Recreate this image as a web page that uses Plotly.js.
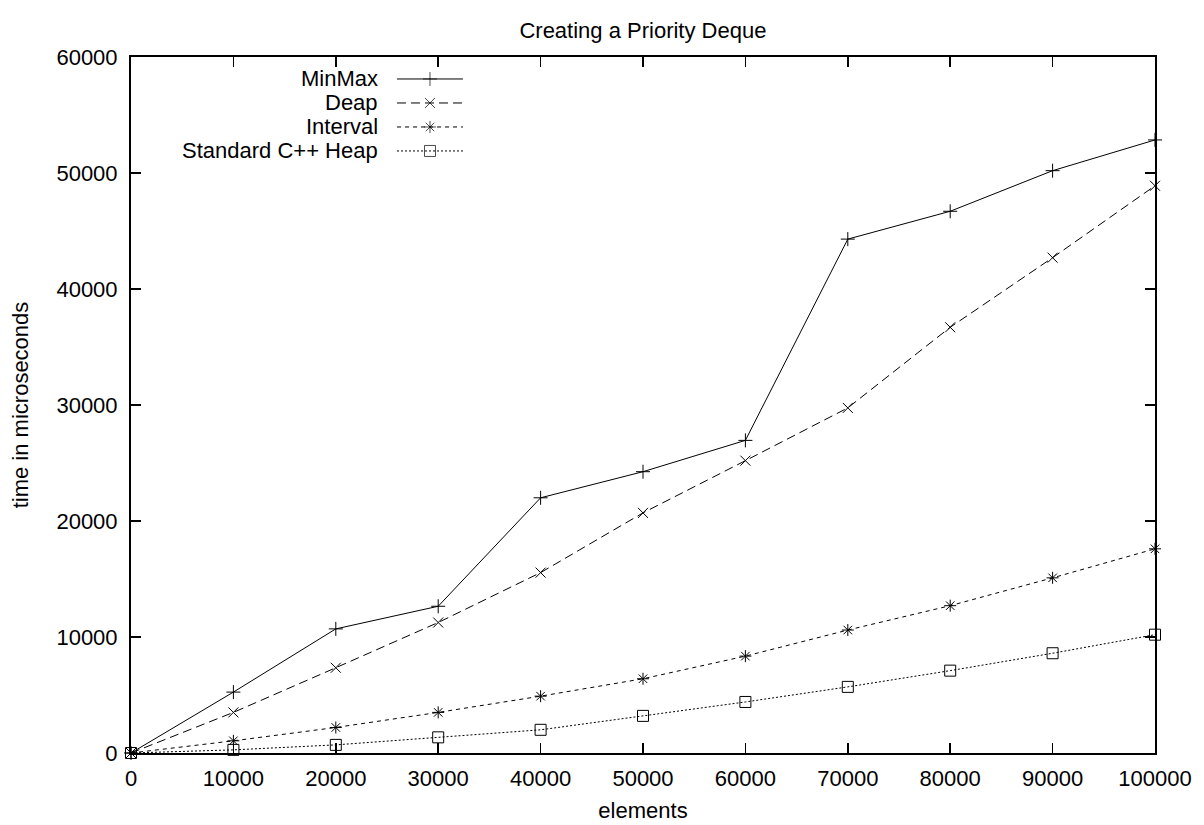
<!DOCTYPE html>
<html>
<head>
<meta charset="utf-8">
<script src="https://cdn.plot.ly/plotly-3.0.1.min.js"></script>
<style>html,body{margin:0;padding:0;background:#fff;}#chart{width:1204px;height:825px;}</style>
</head>
<body>
<div id="chart"></div>
<script>
var elements = [0, 10000, 20000, 30000, 40000, 50000, 60000, 70000, 80000, 90000, 100000];
var minmax   = [0, 5250, 10700, 12650, 22000, 24250, 26950, 44300, 46700, 50200, 52850];
var deap     = [0, 3500, 7350, 11250, 15550, 20700, 25200, 29750, 36700, 42700, 48900];
var interval = [0, 1050, 2200, 3500, 4900, 6400, 8350, 10600, 12700, 15100, 17600];
var heap     = [0, 270, 700, 1350, 2000, 3200, 4400, 5700, 7100, 8600, 10200];
var seriesNames = ["MinMax", "Deap", "Interval", "Standard C++ Heap"];
var xTicks = [0, 10000, 20000, 30000, 40000, 50000, 60000, 70000, 80000, 90000, 100000];
var yTicks = [0, 10000, 20000, 30000, 40000, 50000, 60000];

var FONT = "Liberation Sans, Arial, Helvetica, sans-serif";
var FS = 22;
var styles = [
  {dash: "solid", symbol: "cross-thin-open", size: 10},
  {dash: "9px,5px", symbol: "x-thin-open", size: 10},
  {dash: "4px,4px", symbol: "asterisk-open", size: 10},
  {dash: "2px,2px", symbol: "square-open", size: 11}
];
var seriesData = [minmax, deap, interval, heap];

var traces = [];
seriesData.forEach(function(ys, i){
  traces.push({
    x: elements, y: ys, type: "scatter", mode: "lines+markers",
    name: seriesNames[i], showlegend: false, cliponaxis: false,
    line: {color: "#000", width: 1, dash: styles[i].dash},
    marker: {symbol: styles[i].symbol, size: styles[i].size, color: "#000",
             line: {color: "#000", width: 1}}
  });
});
// custom gnuplot-style key (text left, sample right)
var annotations = [];
seriesNames.forEach(function(n, i){
  traces.push({
    x: [0, 0.5, 1], y: [i, i, i], xaxis: "x2", yaxis: "y2",
    type: "scatter", mode: "lines+markers", showlegend: false, hoverinfo: "skip",
    cliponaxis: false,
    line: {color: "#000", width: 1, dash: styles[i].dash},
    marker: {symbol: styles[i].symbol, size: [0, styles[i].size, 0], color: "#000",
             line: {color: "#000", width: 1}}
  });
  annotations.push({
    text: n, xref: "paper", yref: "y2", x: 0.2432, y: i,
    xanchor: "right", yanchor: "middle", showarrow: false,
    font: {family: FONT, size: FS, color: "#000"}
  });
});

var axisCommon = {
  showgrid: false, zeroline: false, showline: true, linecolor: "#000", linewidth: 2,
  mirror: "allticks", ticks: "inside", ticklen: 10, tickwidth: 1.5, tickcolor: "#000",
  tickfont: {family: FONT, size: FS, color: "#000"}, fixedrange: true
};

var layout = {
  width: 1204, height: 825,
  paper_bgcolor: "#fff", plot_bgcolor: "#fff",
  margin: {l: 131, r: 49, t: 57, b: 72, pad: 0},
  font: {family: FONT, size: FS, color: "#000"},
  title: {text: "Creating a Priority Deque", x: 0.534, xanchor: "center",
          y: 1 - 30/825, yanchor: "middle", font: {family: FONT, size: FS, color: "#000"}},
  xaxis: Object.assign({}, axisCommon, {
    range: [0, 100000], tickmode: "array", tickvals: xTicks, ticktext: xTicks.map(String),
    ticklabelstandoff: 5,
    title: {text: "elements", standoff: 12, font: {family: FONT, size: FS, color: "#000"}}
  }),
  yaxis: Object.assign({}, axisCommon, {
    range: [0, 60000], tickmode: "array", tickvals: yTicks, ticktext: yTicks.map(String),
    ticklabelstandoff: 7,
    title: {text: "time in microseconds", standoff: 22, font: {family: FONT, size: FS, color: "#000"}}
  }),
  xaxis2: {domain: [0.25, 0.335], range: [-0.152, 1.168], visible: false, fixedrange: true, anchor: "y2"},
  yaxis2: {domain: [0.85, 0.98], range: [3.435, -0.336], visible: false, fixedrange: true, anchor: "x2"},
  annotations: annotations,
  showlegend: false
};

Plotly.newPlot("chart", traces, layout, {displayModeBar: false, staticPlot: true});
</script>
</body>
</html>
